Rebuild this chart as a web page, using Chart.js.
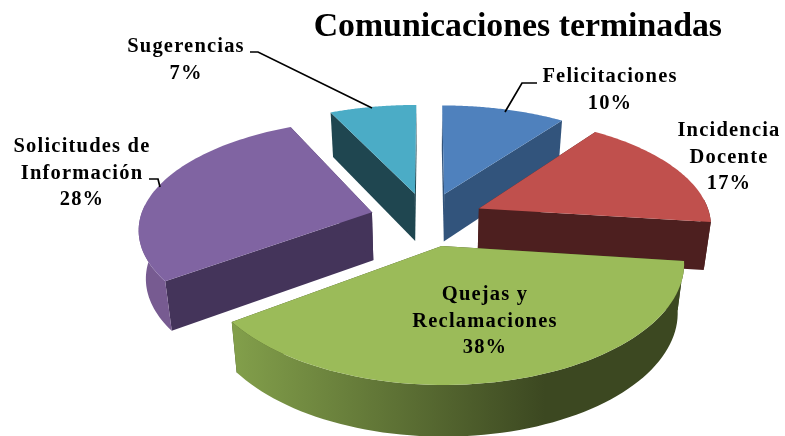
<!DOCTYPE html>
<html>
<head>
<meta charset="utf-8">
<title>Comunicaciones terminadas</title>
<script src="https://cdn.jsdelivr.net/npm/chart.js@4"></script>
<style>
    html, body { margin: 0; padding: 0; background: #ffffff; }
    canvas { display: block; }
</style>
</head>
<body>
<canvas id="pie-chart" width="785" height="436"></canvas>
<script>
// Chart data
const categories = ['Felicitaciones', 'Incidencia Docente', 'Quejas y Reclamaciones', 'Solicitudes de Información', 'Sugerencias'];
const percentages = [10, 17, 38, 28, 7];

// Slice colours
const topColors = ['#4f81bd', '#c0504d', '#9bbb59', '#8064a2', '#4bacc6'];
const sideColors = ['#32547c', '#4d1f1f', '#3f4a22', '#44345a', '#1f4650'];
const rimLight = ['#3f6897', '#4d1f1f', '#83a04b', '#775b91', '#2f6b7b'];
const rimDark = ['#32547c', '#4d1f1f', '#3c4821', '#44345a', '#1f4650'];

// Label layout: lines per slice and where the text block sits
const labelLines = [['Felicitaciones'], ['Incidencia', 'Docente'], ['Quejas y', 'Reclamaciones'], ['Solicitudes de', 'Información'], ['Sugerencias']];
const labelCenterX = [610, 729, 485, 82, 186];
const labelFirstY = [77, 131, 295, 147, 47];
const lineHeight = 26.5;

// Leader lines, drawn in page pixels like the label text
const leaders = [
    [[505, 112], [522, 83], [537, 83]],
    [],
    [],
    [[149, 179], [158, 179], [160, 187]],
    [[250, 52], [258, 52], [372, 108]]
];

// 3D view of the pie
const view = { cx: 427, cy: 219, radius: 232, tilt: 109, perspX: 0.135, perspY: 0.15, explode: 0.247, depth: 48, depthGrow: 3, bottomScale: 0.975 };
const drawOrder = [4, 0, 3, 1, 2];

// Project a point on the flat pie onto the page
function project(u, v) {
    return {
        x: view.cx + view.radius * u / (1 - view.perspX * v),
        y: view.cy + view.tilt * v / (1 - view.perspY * v)
    };
}

// Same point on the underside of the slice
function lower(u, v) {
    const p = project(u, v);
    return {
        x: view.cx + (p.x - view.cx) * view.bottomScale,
        y: p.y + view.depth + view.depthGrow * v
    };
}

function fillPolygon(ctx, points, fill) {
    ctx.beginPath();
    points.forEach((p, i) => {
        if (i === 0) ctx.moveTo(p.x, p.y);
        else ctx.lineTo(p.x, p.y);
    });
    ctx.closePath();
    ctx.fillStyle = fill;
    ctx.fill();
}

// Draws the slices from the angles the library worked out for each arc
const pie3dPlugin = {
    id: 'pie3d',
    beforeDatasetDraw(chart) {
        const ctx = chart.ctx;
        const arcs = chart.getDatasetMeta(0).data;

        drawOrder.forEach(index => {
            const arc = arcs[index];
            const start = arc.startAngle + Math.PI / 2;
            const end = arc.endAngle + Math.PI / 2;
            const mid = (start + end) / 2;
            const offU = view.explode * Math.sin(mid);
            const offV = -view.explode * Math.cos(mid);

            const rimPoints = [];
            const frontPoints = [];
            const steps = 70;
            for (let i = 0; i <= steps; i++) {
                const a = start + (end - start) * i / steps;
                const point = [Math.sin(a) + offU, -Math.cos(a) + offV];
                rimPoints.push(point);
                // Only the part of the rim facing the viewer gets drawn
                if (-Math.cos(a) > -0.1) frontPoints.push(point);
            }
            const first = rimPoints[0];
            const last = rimPoints[steps];

            // Cut faces
            fillPolygon(ctx, [project(offU, offV), project(first[0], first[1]), lower(first[0], first[1]), lower(offU, offV)], sideColors[index]);
            fillPolygon(ctx, [project(offU, offV), project(last[0], last[1]), lower(last[0], last[1]), lower(offU, offV)], sideColors[index]);

            // Outer rim with its shading
            if (frontPoints.length > 1) {
                const shade = ctx.createLinearGradient(230, 0, 545, 0);
                shade.addColorStop(0, rimLight[index]);
                shade.addColorStop(1, rimDark[index]);
                const rimShape = frontPoints.map(p => project(p[0], p[1]))
                    .concat(frontPoints.slice().reverse().map(p => lower(p[0], p[1])));
                fillPolygon(ctx, rimShape, shade);
            }

            // Top face
            const topShape = [project(offU, offV)].concat(rimPoints.map(p => project(p[0], p[1])));
            fillPolygon(ctx, topShape, arc.options.backgroundColor);
        });

        // Stop the flat arcs from being painted as well
        return false;
    },
    afterDatasetsDraw(chart) {
        const ctx = chart.ctx;
        ctx.save();

        // Leader lines
        ctx.strokeStyle = '#000000';
        ctx.lineWidth = 1.7;
        leaders.forEach(line => {
            if (line.length === 0) return;
            ctx.beginPath();
            line.forEach((p, i) => {
                if (i === 0) ctx.moveTo(p[0], p[1]);
                else ctx.lineTo(p[0], p[1]);
            });
            ctx.stroke();
        });

        // Data labels
        ctx.fillStyle = '#000000';
        ctx.font = 'bold 20.5px "Liberation Serif"';
        ctx.letterSpacing = '1.2px';
        ctx.textAlign = 'center';
        ctx.textBaseline = 'middle';
        categories.forEach((name, index) => {
            const lines = labelLines[index].concat(percentages[index] + '%');
            lines.forEach((text, i) => {
                ctx.fillText(text, labelCenterX[index], labelFirstY[index] + i * lineHeight);
            });
        });
        ctx.restore();
    }
};

const chart = new Chart(document.getElementById('pie-chart'), {
    type: 'pie',
    data: {
        labels: categories,
        datasets: [{
            data: percentages,
            backgroundColor: topColors,
            borderWidth: 0
        }]
    },
    options: {
        responsive: false,
        animation: false,
        layout: { padding: { right: 63 } },
        plugins: {
            legend: { display: false },
            tooltip: { enabled: false },
            title: {
                display: true,
                text: 'Comunicaciones terminadas',
                align: 'end',
                color: '#000000',
                font: { family: '"Liberation Serif"', size: 33.8, weight: 'bold' },
                padding: { top: 7, bottom: 4 }
            }
        }
    },
    plugins: [pie3dPlugin]
});
</script>
</body>
</html>
